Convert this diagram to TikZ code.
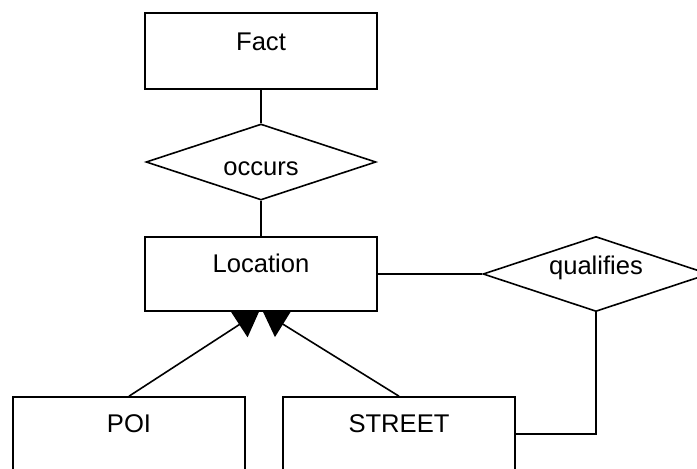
\documentclass[tikz,border=0pt]{standalone}
\usepackage{fontspec}
\setmainfont{Liberation Sans}
\usetikzlibrary{shapes.geometric,arrows.meta}
\begin{document}
\begin{tikzpicture}[x=0.5pt,y=-0.5pt,line width=0.8pt,
    every node/.style={font=\fontsize{12.8}{15}\selectfont},
    entity/.style={draw,rectangle,inner xsep=0pt,inner ysep=0pt,
      minimum width=116pt,text height=17.5pt,text depth=19.5pt},
    relation/.style={draw,diamond,inner sep=0pt,aspect=3}]
  \useasboundingbox (0,0) rectangle (697,468);
  \draw
    (261,51) node[entity,text height=18.5pt] (fact){Fact}
    (261,162) node[relation,minimum width=115pt,minimum height=38pt,
      text height=13pt,text depth=0pt] (occurs){occurs}
    (261,274) node[entity] (location){Location}
    (596,274) node[relation,minimum width=113pt,minimum height=37.5pt,
      text height=9.5pt,text depth=9.5pt] (qualifies){qualifies\hspace{12pt}}
    (129,434) node[entity] (poi){POI}
    (399,434) node[entity] (street){STREET};
  \begin{scope}[-]
    \draw (fact) to (occurs);
    \draw (occurs) to (location);
    \draw (location) to (qualifies);
    \draw (qualifies.south) |- (street.east);
  \end{scope}
  \begin{scope}[-{Triangle[length=11.75pt,width=15pt]}]
    \draw (poi.north) to ([xshift=-1pt]location.south);
    \draw (street.north) to ([xshift=1pt]location.south);
  \end{scope}
\end{tikzpicture}
\end{document}
